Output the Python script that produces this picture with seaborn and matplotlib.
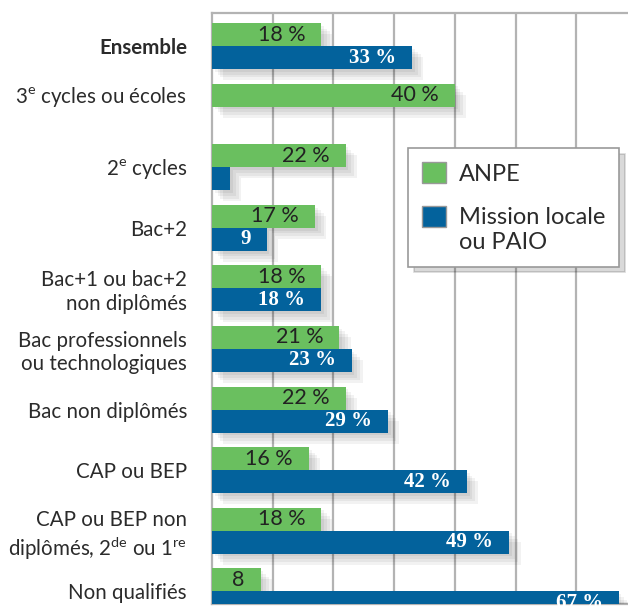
import numpy as np
import pandas as pd
import matplotlib
matplotlib.use("Agg")
import matplotlib.pyplot as plt
import matplotlib.patheffects as pe
from matplotlib.patches import Patch, Rectangle
from matplotlib.legend_handler import HandlerPatch
import seaborn as sns

# données (en %)
categories = ["Ensemble", "3e cycles ou écoles", "2e cycles", "Bac+2",
              "Bac+1 ou bac+2 non diplômés", "Bac professionnels ou technologiques",
              "Bac non diplômés", "CAP ou BEP", "CAP ou BEP non diplômés, 2de ou 1re",
              "Non qualifiés"]
tick_labels = ["Ensemble", "3$^{\\mathrm{e}}$ cycles ou écoles", "2$^{\\mathrm{e}}$ cycles", "Bac+2",
               "Bac+1 ou bac+2\nnon diplômés", "Bac professionnels\nou technologiques",
               "Bac non diplômés", "CAP ou BEP",
               "CAP ou BEP non\ndiplômés, 2$^{\\mathrm{de}}$ ou 1$^{\\mathrm{re}}$",
               "Non qualifiés"]
anpe = [18, 40, 22, 17, 18, 21, 22, 16, 18, 8]
mission = [33, np.nan, 3, 9, 18, 23, 29, 42, 49, 67]
anpe_txt = ["18 %", "40 %", "22 %", "17 %", "18 %", "21 %", "22 %", "16 %", "18 %", "8"]
mission_txt = ["33 %", "", "", "9", "18 %", "23 %", "29 %", "42 %", "49 %", "67 %"]
series = ["ANPE", "Mission locale\nou PAIO"]

vert = "#6abf5f"
bleu = "#03629c"
gris = "#b3b3b3"

df = pd.DataFrame({
    "cat": categories * 2,
    "serie": [series[0]] * len(categories) + [series[1]] * len(categories),
    "val": anpe + mission,
})

plt.rcParams["mathtext.fontset"] = "custom"
plt.rcParams["mathtext.rm"] = "Lato"

fig = plt.figure(figsize=(6.28, 6.09), dpi=100)
ax = fig.add_axes([212 / 628, 5 / 609, 416 / 628, (604 - 12.7) / 609])

sns.barplot(data=df, x="val", y="cat", hue="serie", hue_order=series, order=categories,
            orient="h", palette=[vert, bleu], width=0.76, saturation=1,
            legend=False, ax=ax, zorder=3)

# ombre portée floue
ombre = [pe.SimplePatchShadow(offset=(d, -d), shadow_rgbFace="black", alpha=0.05) for d in (2, 4, 6, 8)]
for p in ax.patches:
    p.set_path_effects(ombre + [pe.Normal()])

ax.set_xlim(0, 416 / 6.07)
ax.set_ylim(9.21, -0.55)
ax.set_xticks(range(10, 70, 10))
ax.xaxis.grid(True, color=gris, lw=1.6)
ax.set_axisbelow(True)
ax.tick_params(axis="x", length=0, labelbottom=False)
ax.set_xlabel("")
ax.set_ylabel("")
for s in ["top", "left", "bottom"]:
    ax.spines[s].set_color(gris)
    ax.spines[s].set_linewidth(1.6)
ax.spines["right"].set_visible(False)

# étiquettes des catégories
pos = [i - 0.19 if np.isnan(m) else i for i, m in enumerate(mission)]
ax.set_yticks(pos)
ax.set_yticklabels(tick_labels, fontfamily="Lato", fontsize=14.8, color="#2b2b2b")
ax.get_yticklabels()[0].set_fontweight("bold")
ax.tick_params(axis="y", length=0, pad=18)

# valeurs
for i in range(len(categories)):
    ax.annotate(anpe_txt[i], (anpe[i], i - 0.19), xytext=(-16, 0), textcoords="offset pixels",
                ha="right", va="center", fontfamily="Lato", fontsize=15.5, color="#222222", zorder=5)
    if mission_txt[i]:
        ax.annotate(mission_txt[i], (mission[i], i + 0.19), xytext=(-16, 0), textcoords="offset pixels",
                    ha="right", va="center", fontfamily="Liberation Serif", fontweight="bold",
                    fontsize=15, color="white", zorder=5)


# carré de légende calé sur la première ligne du libellé
def carre(legend, orig_handle, xdescent, ydescent, width, height, fontsize):
    lignes = orig_handle.get_label().count("\n") if orig_handle.get_label() else 0
    return Rectangle((-xdescent, -ydescent + lignes * 0.6 * fontsize), width, height)


handles = [Patch(facecolor=vert, edgecolor="#999999", lw=1),
           Patch(facecolor=bleu, edgecolor="#999999", lw=1, label="x\ny")]
leg = fig.legend(handles, series, loc="upper left", bbox_to_anchor=(408 / 628, 1 - 148 / 609),
                 bbox_transform=fig.transFigure, borderaxespad=0, fancybox=False,
                 prop={"family": "Lato", "size": 17}, handlelength=1.0, handleheight=1.0,
                 handletextpad=0.55, borderpad=0.6, labelspacing=0.95,
                 handler_map={Patch: HandlerPatch(patch_func=carre)},
                 shadow={"ox": 4, "oy": -4, "color": "black", "alpha": 0.15})
leg.get_frame().set_edgecolor("#999999")
leg.get_frame().set_linewidth(1.2)
for t in leg.get_texts():
    t.set_color("#2b2b2b")

fig.savefig("out.png", dpi=100)
